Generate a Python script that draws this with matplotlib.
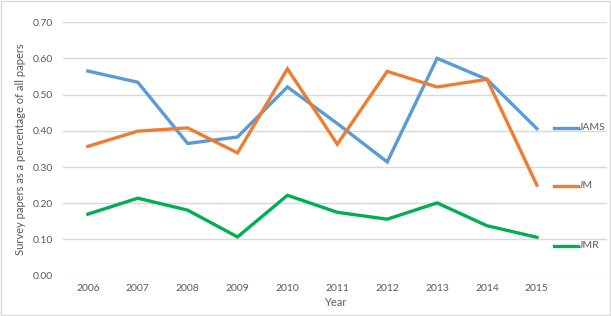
import matplotlib
matplotlib.use('Agg')
import matplotlib.pyplot as plt
from matplotlib.patches import Rectangle
from matplotlib.lines import Line2D

years = ['2006', '2007', '2008', '2009', '2010', '2011', '2012', '2013', '2014', '2015']
jams = [0.565, 0.534, 0.365, 0.383, 0.521, 0.42, 0.314, 0.600, 0.542, 0.406]
jm = [0.357, 0.399, 0.408, 0.339, 0.571, 0.363, 0.564, 0.521, 0.542, 0.250]
jmr = [0.170, 0.214, 0.181, 0.107, 0.222, 0.175, 0.156, 0.201, 0.138, 0.106]

series = [('JAMS', jams, '#5b9bd5'), ('JM', jm, '#ed7d31'), ('JMR', jmr, '#00b050')]

plt.rcParams['font.family'] = ['Lato', 'DejaVu Sans']
txt = '#595959'
grid = '#d9d9d9'

fig = plt.figure(figsize=(6.11, 3.16), dpi=100)
fig.patches.append(Rectangle((0.001, 0.002), 0.997, 0.995, transform=fig.transFigure,
                             fill=False, edgecolor=grid, linewidth=1))
ax = fig.add_axes([0.103, 0.1275, 0.89, 0.8025])

x = list(range(len(years)))
for name, vals, col in series:
    ax.plot(x, vals, color=col, linewidth=2.4, solid_joinstyle='miter')

ax.set_ylim(0, 0.7)
ax.set_xlim(-0.5, 10.4)
ax.set_yticks([i / 10 for i in range(8)])
ax.set_yticklabels([f'{i / 10:.2f}' for i in range(8)])
ax.set_xticks(x)
ax.set_xticklabels(years)
ax.grid(axis='y', color=grid, linewidth=1)
ax.set_axisbelow(True)
for s in ax.spines.values():
    s.set_visible(False)
ax.tick_params(length=0, labelsize=7.5, colors=txt, pad=6)
ax.tick_params(axis='y', pad=7)
ax.set_xlabel('Year', fontsize=8, color=txt, labelpad=3)
ax.set_ylabel('Survey papers as a percentage of all papers', fontsize=8, color=txt, labelpad=5)

# legend drawn by hand at the right side, as in the original
leg_y = [128, 186, 246]
for (name, vals, col), py in zip(series, leg_y):
    yf = 1 - py / 316
    fig.add_artist(Line2D([554 / 611, 578 / 611], [yf, yf], color=col, linewidth=2.4,
                          transform=fig.transFigure))
    fig.text(579 / 611, yf, name, fontsize=7.5, color=txt, va='center', ha='left')

fig.savefig('out.png', dpi=100)
